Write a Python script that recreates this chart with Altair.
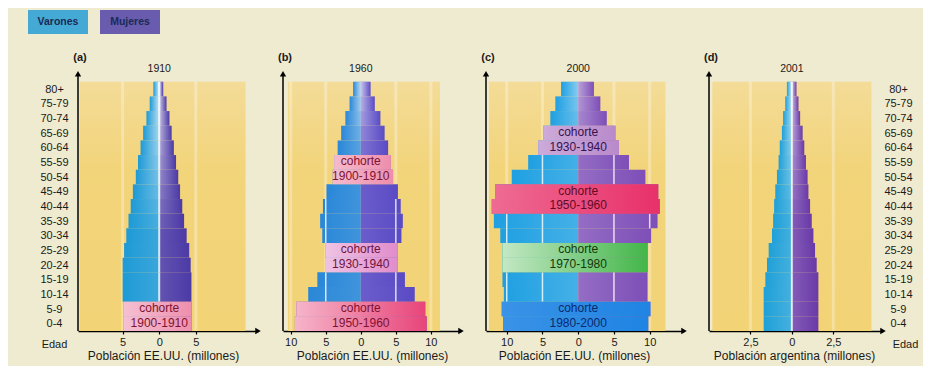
import altair as alt
import pandas as pd

# ---------------- data ----------------
AGES = ["0-4", "5-9", "10-14", "15-19", "20-24", "25-29", "30-34", "35-39",
        "40-44", "45-49", "50-54", "55-59", "60-64", "65-69", "70-74", "75-79", "80+"]

# millions of people per 5-year age group (index 0 = "0-4")
MALE_1910 = [4.9, 4.9, 5.0, 5.0, 5.0, 4.8, 4.5, 4.2, 3.9, 3.6, 3.2, 2.9, 2.55, 2.2, 1.75, 1.3, 0.8]
FEMALE_1910 = [4.4, 4.4, 4.4, 4.4, 4.3, 4.1, 3.75, 3.4, 3.15, 2.85, 2.6, 2.3, 2.0, 1.7, 1.4, 1.0, 0.55]

MALE_1960 = [9.4, 9.2, 7.5, 6.2, 5.1, 5.0, 5.5, 5.8, 5.4, 4.9, 4.0, 3.8, 3.3, 2.8, 2.2, 1.6, 1.1]
FEMALE_1960 = [9.4, 9.2, 7.7, 6.3, 5.3, 5.3, 5.8, 6.0, 5.7, 5.3, 4.6, 4.3, 3.9, 3.4, 2.8, 2.0, 1.4]

MALE_2000 = [10.5, 10.7, 10.4, 10.6, 10.6, 10.6, 10.9, 11.8, 12.1, 11.6, 9.3, 7.0, 5.6, 4.9, 3.9, 3.2, 2.4]
FEMALE_2000 = [9.8, 10.1, 9.7, 9.7, 9.7, 9.7, 10.2, 11.1, 11.4, 11.2, 9.4, 7.1, 5.7, 5.2, 4.0, 3.1, 2.2]

MALE_ARG_2001 = [1.7, 1.7, 1.7, 1.6, 1.5, 1.4, 1.2, 1.13, 1.07, 1.0, 0.9, 0.8, 0.73, 0.6, 0.53, 0.4, 0.3]
FEMALE_ARG_2001 = [1.6, 1.6, 1.6, 1.6, 1.5, 1.4, 1.3, 1.2, 1.1, 1.0, 0.95, 0.85, 0.75, 0.65, 0.5, 0.4, 0.28]

# cohorts: (label, [upper age group, lower age group])
COHORTS_1910 = [("1900-1910", ["5-9", "0-4"])]
COHORTS_1960 = [("1900-1910", ["55-59", "50-54"]),
                ("1930-1940", ["25-29", "20-24"]),
                ("1950-1960", ["5-9", "0-4"])]
COHORTS_2000 = [("1930-1940", ["65-69", "60-64"]),
                ("1950-1960", ["45-49", "40-44"]),
                ("1970-1980", ["25-29", "20-24"]),
                ("1980-2000", ["5-9", "0-4"])]
COHORTS_2001 = []

TICKS_1910 = [-5, 0, 5]
TICKS_US = [-10, -5, 0, 5, 10]
TICKS_ARG = [-2.5, 0, 2.5]

SEXES = ["Varones", "Mujeres"]
COHORT_WORD = "cohorte"
AGE_TITLE = "Edad"
TITLE_US = "Población EE.UU. (millones)"
TITLE_ARG = "Población argentina (millones)"

# ---------------- styling / layout ----------------
FONT = "Liberation Sans"
Y_MAX = 17.8
PLOT_H = 261
BG = "#EFEBD0"
INK = "#1a1a1a"

COHORT_STYLE = {
    ("a", "1900-1910"): dict(fill="#EE8FAE", text="#7E1232", lift=0.55),
    ("b", "1900-1910"): dict(fill="#EE8EAC", text="#7E1232", lift=0.5),
    ("b", "1930-1940"): dict(fill="#E08CCB", text="#6E1440", lift=0.6),
    ("b", "1950-1960"): dict(fill="#E8457A", text="#7E1232", lift=0.75),
    ("c", "1930-1940"): dict(fill="#B98ACB", text="#35114F", lift=0.35),
    ("c", "1950-1960"): dict(fill="#E8316A", text="#600C26", lift=0.35),
    ("c", "1970-1980"): dict(fill="#43B649", text="#15380D", lift=0.85),
    ("c", "1980-2000"): dict(fill="#1F84E3", text="#0A2A6E", lift=0.15),
}

PANELS = [
    dict(key="a", tag="(a)", year="1910", male=MALE_1910, female=FEMALE_1910,
         cohorts=COHORTS_1910, ticks=TICKS_1910, x_title=TITLE_US,
         domain=(-11.1, 13.5), width=180, bg=(-10.9, 11.8), title_x=85,
         male_color="#1E9AD6", female_color="#4C3AA6", lift=(6, 0.15, 0.95),
         grid_over=[], center=True, age_axis="left"),
    dict(key="b", tag="(b)", year="1960", male=MALE_1960, female=FEMALE_1960,
         cohorts=COHORTS_1960, ticks=TICKS_US, x_title=TITLE_US,
         domain=(-11.1, 14.3), width=178, bg=(-10.4, 11.3), title_x=89,
         male_color="#2A88D8", female_color="#5A4BC5", lift=(11, 0.12, 0.8),
         grid_over=[-5, 5], center=False, age_axis=None),
    dict(key="c", tag="(c)", year="2000", male=MALE_2000, female=FEMALE_2000,
         cohorts=COHORTS_2000, ticks=TICKS_US, x_title=TITLE_US,
         domain=(-12.9, 14.8), width=198, bg=(-12.5, 12.2), title_x=88,
         male_color="#1FA0E2", female_color="#7E4FB8", lift=(12, 0.2, 0.55),
         grid_over=[-10, -5, 5, 10], center=False, age_axis=None),
    dict(key="d", tag="(d)", year="2001", male=MALE_ARG_2001, female=FEMALE_ARG_2001,
         cohorts=COHORTS_2001, ticks=TICKS_ARG, x_title=TITLE_ARG,
         domain=(-5.0, 5.5), width=174, bg=(-4.8, 4.8), title_x=85,
         male_color="#1FA0D8", female_color="#6A3AA8", lift=(7, 0.2, 0.85),
         grid_over=[], center=True, age_axis="right"),
]

# legend drawn as coloured boxes with the label centred inside
LEGEND = alt.Legend(
    title=None, orient="none", legendX=-44, legendY=-60, direction="horizontal",
    symbolType="M-1.5,-1L3.5,-1L3.5,1L-1.5,1Z", symbolSize=576,
    symbolStrokeWidth=0, symbolOpacity=0.82, labelAlign="center", labelOffset=0,
    labelFont=FONT, labelFontSize=10.5, labelFontWeight="bold", labelColor="#1B2A55",
    columnPadding=12, padding=0,
)


def white_grad(left_alpha, right_alpha):
    return alt.Gradient(
        gradient="linear", x1=0, x2=1, y1=0, y2=0,
        stops=[alt.GradientStop(color=f"rgba(255,255,255,{left_alpha})", offset=0),
               alt.GradientStop(color=f"rgba(255,255,255,{right_alpha})", offset=1)])


BG_GRAD = alt.Gradient(
    gradient="linear", x1=0, x2=0, y1=0, y2=1,
    stops=[alt.GradientStop(color="#F4DC98", offset=0),
           alt.GradientStop(color="#F2D47A", offset=0.35),
           alt.GradientStop(color="#F2D376", offset=1)])


def make_panel(cfg):
    xmin, xmax = cfg["domain"]
    xs = alt.Scale(domain=[xmin, xmax], nice=False, zero=False)
    ys = alt.Scale(domain=[0, Y_MAX], nice=False, zero=False)
    xax = alt.Axis(values=cfg["ticks"],
                   labelExpr="replace(format(abs(datum.value), '~g'), '.', ',')",
                   title=cfg["x_title"], titleX=cfg["title_x"])
    age_expr = "[" + ",".join(f"'{a}'" for a in AGES) + "][floor(datum.value)]"
    if cfg["age_axis"] == "left":
        yax = alt.Axis(orient="left", values=[i + 0.5 for i in range(len(AGES))],
                       labelExpr=age_expr, domain=False, ticks=False, tickSize=0,
                       labelAlign="center", labelBaseline="middle", labelPadding=24,
                       labelFontSize=11,
                       title=AGE_TITLE, titleAngle=0, titleX=-24, titleY=PLOT_H + 13,
                       titleAlign="center", titleBaseline="middle", titleFontSize=11)
    elif cfg["age_axis"] == "right":
        yax = alt.Axis(orient="right", values=[i + 0.5 for i in range(len(AGES))],
                       labelExpr=age_expr, domain=False, ticks=False, tickSize=0,
                       labelAlign="center", labelBaseline="middle", labelPadding=15,
                       labelFontSize=11,
                       title=AGE_TITLE, titleAngle=0, titleX=22, titleY=PLOT_H + 13,
                       titleAlign="center", titleBaseline="middle", titleFontSize=11)
    else:
        yax = None

    def X(f):
        return alt.X(f, type="quantitative", scale=xs, axis=xax)

    def Y(f):
        return alt.Y(f, type="quantitative", scale=ys, axis=yax)

    cohort_of = {}
    for label, ages in cfg["cohorts"]:
        for a in ages:
            cohort_of[AGES.index(a)] = label

    start, base, top = cfg["lift"]
    bar_rows, coh_rows, grid_rows = [], [], []
    for i, age in enumerate(AGES):
        m, f = cfg["male"][i], cfg["female"][i]
        t = min(max((i - start) / (len(AGES) - 1 - start), 0.0), 1.0)
        lift = base + (top - base) * t
        in_coh = i in cohort_of
        bar_rows.append(dict(age=age, idx=i, top=i + 1, sex=SEXES[0], x0=-m, x1=0.0, lift=lift, coh=in_coh))
        bar_rows.append(dict(age=age, idx=i, top=i + 1, sex=SEXES[1], x0=0.0, x1=f, lift=lift, coh=in_coh))
        if in_coh:
            st = COHORT_STYLE[(cfg["key"], cohort_of[i])]
            coh_rows.append(dict(idx=i, top=i + 1, x0=-m, x1=f, fill=st["fill"], lift=st["lift"]))
        else:
            gl = list(cfg["grid_over"]) + ([0] if cfg["center"] else [])
            for g in gl:
                ok = (g < 0 and m > -g + 0.35) or (g > 0 and f > g + 0.35) or g == 0
                if ok:
                    grid_rows.append(dict(g=g, idx=i, top=i + 1, w=2.0 if g == 0 else 1.5))
    bars_df = pd.DataFrame(bar_rows)

    layers = []
    # panel background
    bg_df = pd.DataFrame({"x0": [cfg["bg"][0]], "x1": [cfg["bg"][1]], "y0": [0], "y1": [len(AGES)]})
    layers.append(alt.Chart(bg_df).mark_rect(fill=BG_GRAD).encode(
        x=X("x0"), x2="x1", y=Y("y0"), y2="y1"))
    # light stripes on the background
    st_df = pd.DataFrame({"g": cfg["ticks"], "y0": 0, "y1": len(AGES)})
    layers.append(alt.Chart(st_df).mark_rule(color="white", strokeWidth=3, opacity=0.3).encode(
        x=X("g"), y=Y("y0"), y2="y1"))
    # bars
    layers.append(alt.Chart(bars_df).mark_rect(strokeWidth=0).encode(
        x=X("x0"), x2="x1", y=Y("idx"), y2="top",
        color=alt.Color("sex:N", scale=alt.Scale(domain=SEXES, range=[cfg["male_color"], cfg["female_color"]]),
                        legend=LEGEND if cfg["key"] == "a" else None)))
    # lightening towards the centre line
    mdf = bars_df[(bars_df.sex == SEXES[0]) & (~bars_df.coh)]
    fdf = bars_df[(bars_df.sex == SEXES[1]) & (~bars_df.coh)]
    layers.append(alt.Chart(mdf).mark_rect(fill=white_grad(0, 0.85), strokeWidth=0).encode(
        x=X("x0"), x2="x1", y=Y("idx"), y2="top", opacity=alt.Opacity("lift:Q", scale=None)))
    layers.append(alt.Chart(fdf).mark_rect(fill=white_grad(0.85, 0), strokeWidth=0).encode(
        x=X("x0"), x2="x1", y=Y("idx"), y2="top", opacity=alt.Opacity("lift:Q", scale=None)))
    # white grid lines across the plain bars
    if grid_rows:
        gdf = pd.DataFrame(grid_rows)
        layers.append(alt.Chart(gdf).mark_rule(color="white", opacity=0.8).encode(
            x=X("g"), y=Y("idx"), y2="top", strokeWidth=alt.StrokeWidth("w:Q", scale=None)))
    # cohort bands
    if coh_rows:
        cdf = pd.DataFrame(coh_rows)
        layers.append(alt.Chart(cdf).mark_rect(strokeWidth=0).encode(
            x=X("x0"), x2="x1", y=Y("idx"), y2="top", fill=alt.Fill("fill:N", scale=None)))
        layers.append(alt.Chart(cdf).mark_rect(fill=white_grad(0.8, 0), strokeWidth=0).encode(
            x=X("x0"), x2="x1", y=Y("idx"), y2="top", opacity=alt.Opacity("lift:Q", scale=None)))
        txt = []
        for label, ages in cfg["cohorts"]:
            st = COHORT_STYLE[(cfg["key"], label)]
            up, lo = AGES.index(ages[0]), AGES.index(ages[1])
            txt.append(dict(x=0.0, y=up + 0.5, text=COHORT_WORD, tc=st["text"]))
            txt.append(dict(x=0.0, y=lo + 0.5, text=label, tc=st["text"]))
        tdf = pd.DataFrame(txt)
        layers.append(alt.Chart(tdf).mark_text(font=FONT, fontSize=12, baseline="middle", dy=-1).encode(
            x=X("x"), y=Y("y"), text="text:N", fill=alt.Fill("tc:N", scale=None)))
    # vertical axis line with arrow heads
    ax_df = pd.DataFrame({"x": [xmin], "y0": [0], "y1": [Y_MAX - 0.3]})
    layers.append(alt.Chart(ax_df).mark_rule(color="black", strokeWidth=1.5).encode(
        x=X("x"), y=Y("y0"), y2="y1"))
    ar_df = pd.DataFrame({"x": [xmin, xmax], "y": [Y_MAX - 0.25, 0], "shape": ["triangle-up", "triangle-right"]})
    layers.append(alt.Chart(ar_df).mark_point(filled=True, color="black", size=40, opacity=1).encode(
        x=X("x"), y=Y("y"), shape=alt.Shape("shape:N", scale=None)))
    # year and tag
    yr_df = pd.DataFrame({"x": [0.0], "y": [17.87], "text": [cfg["year"]]})
    layers.append(alt.Chart(yr_df).mark_text(font=FONT, fontSize=10.5, color=INK, baseline="middle").encode(
        x=X("x"), y=Y("y"), text="text:N"))
    tg_df = pd.DataFrame({"x": [xmin], "y": [18.6], "text": [cfg["tag"]]})
    layers.append(alt.Chart(tg_df).mark_text(font=FONT, fontSize=11, fontWeight="bold", color=INK,
                                             baseline="middle", dx=2).encode(
        x=X("x"), y=Y("y"), text="text:N"))

    return alt.layer(*layers).properties(width=cfg["width"], height=PLOT_H)


charts = [make_panel(c) for c in PANELS]

chart = (
    alt.hconcat(*charts, spacing=25, bounds="flush")
    .resolve_scale(x="independent", y="independent", color="independent")
    .properties(background=BG, padding={"left": 26, "top": 2, "right": 5, "bottom": 5})
    .configure_view(stroke=None)
    .configure_axis(labelFont=FONT, titleFont=FONT, labelFontSize=11, titleFontSize=12,
                    titleFontWeight="normal", labelColor=INK, titleColor=INK,
                    domainColor="black", domainWidth=1.5, tickColor="black", tickWidth=1.2,
                    tickSize=3, labelPadding=2, titlePadding=3, grid=False)
)

chart.save("out.html", embed_options={"renderer": "svg", "actions": False})
